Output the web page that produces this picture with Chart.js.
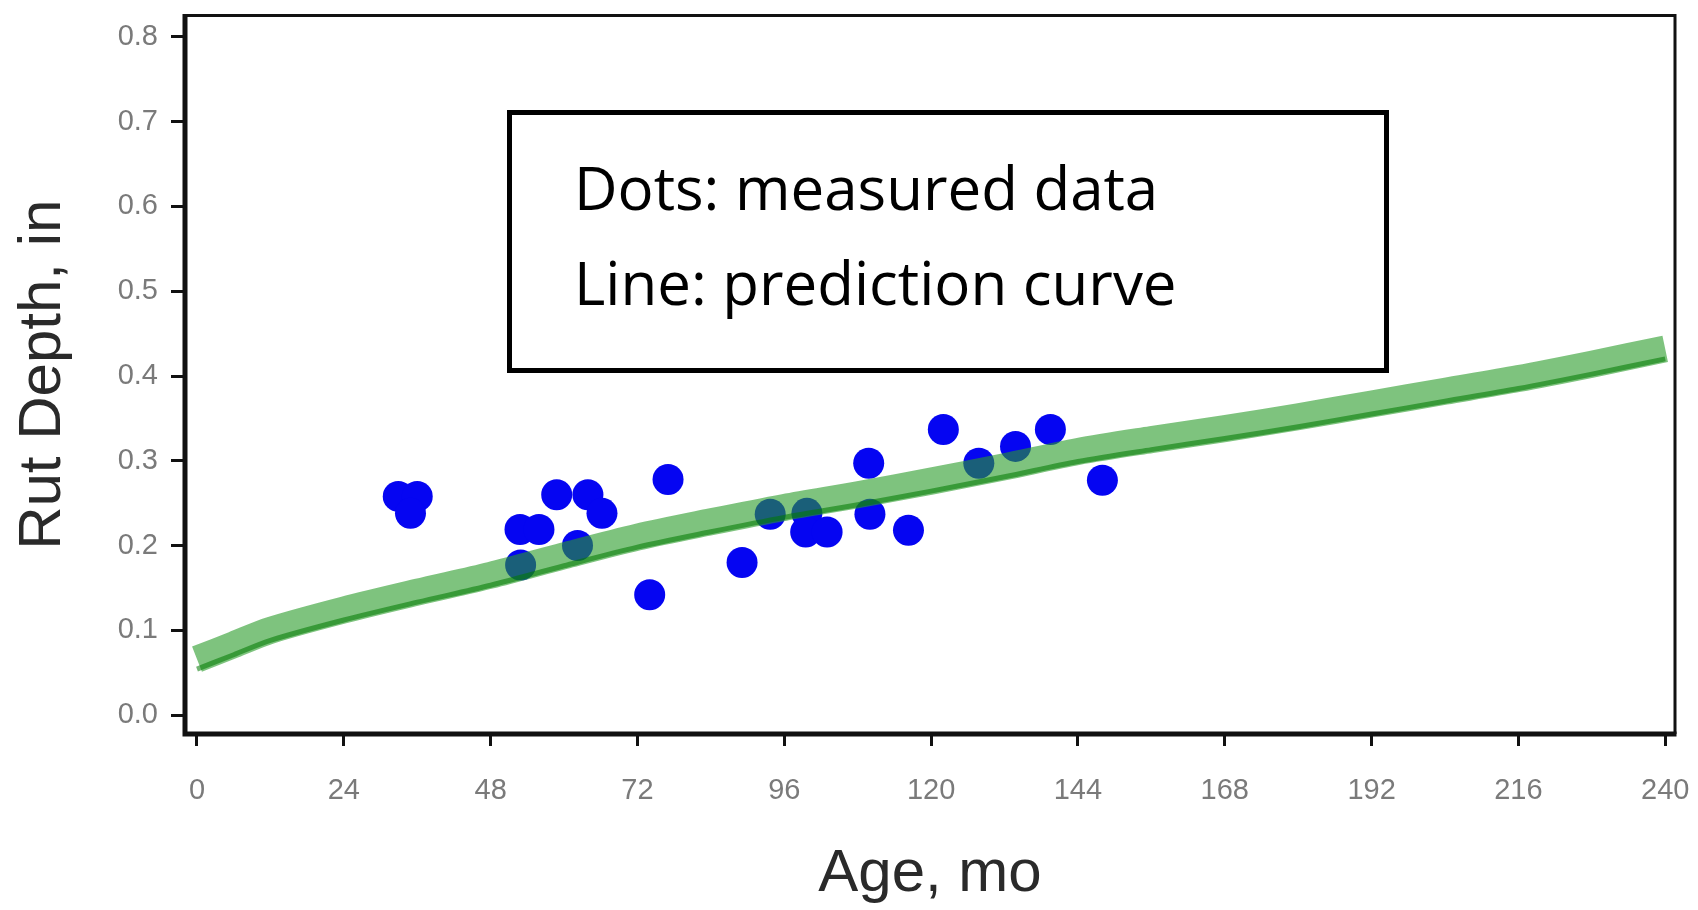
<!DOCTYPE html>
<html>
<head>
<meta charset="utf-8">
<title>Rut Depth vs Age</title>
<script src="https://cdn.jsdelivr.net/npm/chart.js@4.4.1/dist/chart.umd.min.js"></script>
<style>
  html, body { margin: 0; padding: 0; background: #fff; }
  canvas { display: block; }
</style>
</head>
<body>
<canvas id="rutChart" width="1698" height="910"></canvas>
<script>
// axis ticks
const ageTicks = [0, 24, 48, 72, 96, 120, 144, 168, 192, 216, 240];
const rutTicks = [0, 0.1, 0.2, 0.3, 0.4, 0.5, 0.6, 0.7, 0.8];

// measured data (dots)
const measuredAge = [32.9, 36.0, 34.9, 52.8, 55.9, 52.9, 58.8, 62.2, 63.9, 66.2, 74.0, 77.0, 89.1,
    93.7, 99.7, 99.5, 103.0, 109.8, 110.0, 116.3, 122.0, 127.8, 133.8, 139.5, 148.0];
const measuredRut = [0.258, 0.258, 0.238, 0.219, 0.219, 0.177, 0.260, 0.200, 0.260, 0.238, 0.142, 0.278, 0.180,
    0.237, 0.238, 0.216, 0.216, 0.297, 0.237, 0.218, 0.337, 0.297, 0.317, 0.337, 0.277];

// prediction curve (line)
const curveAge = [0, 6, 12, 24, 36, 48, 60, 72, 84, 96, 108, 120, 132, 144, 156, 168, 180, 192, 204, 216, 228, 240];
const curveRut = [0.066, 0.083, 0.100, 0.124, 0.145, 0.165, 0.188, 0.210, 0.228, 0.245, 0.260, 0.276,
    0.293, 0.311, 0.325, 0.338, 0.352, 0.367, 0.382, 0.397, 0.414, 0.432];

const noteLines = ['Dots: measured data', 'Line: prediction curve'];

const framePlugin = {
    id: 'frame',
    afterDatasetsDraw(chart) {
        const { ctx, chartArea: a } = chart;
        ctx.save();
        ctx.strokeStyle = '#111';
        ctx.lineWidth = 3;
        ctx.beginPath();
        ctx.moveTo(a.left, a.top);
        ctx.lineTo(a.right, a.top);
        ctx.lineTo(a.right, a.bottom);
        ctx.stroke();
        ctx.lineWidth = 5;
        ctx.beginPath();
        ctx.moveTo(a.left, a.top - 1.5);
        ctx.lineTo(a.left, a.bottom);
        ctx.lineTo(a.right + 1.5, a.bottom);
        ctx.stroke();
        ctx.restore();
    }
};

// darker lower rim of the green band: same curve, drawn shifted down a bit
const rimPlugin = {
    id: 'rim',
    beforeDatasetDraw(chart, args) {
        if (args.index === 1) {
            chart.ctx.save();
            chart.ctx.translate(0, 10);
        }
    },
    afterDatasetDraw(chart, args) {
        if (args.index === 1) chart.ctx.restore();
    }
};

// the text box in the upper middle of the plot
const notePlugin = {
    id: 'note',
    afterDraw(chart) {
        const ctx = chart.ctx;
        ctx.save();
        ctx.fillStyle = '#fff';
        ctx.fillRect(509, 112, 878, 259);
        ctx.strokeStyle = '#000';
        ctx.lineWidth = 5;
        ctx.strokeRect(509.5, 112.5, 877, 258);
        ctx.fillStyle = '#000';
        ctx.font = '60px "Open Sans"';
        ctx.textBaseline = 'alphabetic';
        ctx.fillText(noteLines[0], 574, 210);
        ctx.fillText(noteLines[1], 574, 305);
        ctx.restore();
    }
};

const ctx = document.getElementById('rutChart').getContext('2d');
new Chart(ctx, {
    type: 'scatter',
    data: {
        datasets: [{
            label: 'Prediction curve',
            data: curveAge.map((a, i) => ({ x: a, y: curveRut[i] })),
            showLine: true,
            borderColor: 'rgba(40, 155, 40, 0.6)',
            borderWidth: 27,
            borderCapStyle: 'butt',
            tension: 0.3,
            pointRadius: 0,
            clip: 0,
            order: 1
        }, {
            label: 'Prediction curve rim',
            data: curveAge.map((a, i) => ({ x: a, y: curveRut[i] })),
            showLine: true,
            borderColor: 'rgba(0, 120, 0, 0.55)',
            borderWidth: 5,
            borderCapStyle: 'butt',
            tension: 0.3,
            pointRadius: 0,
            clip: 0,
            order: 0
        }, {
            label: 'Measured data',
            data: measuredAge.map((a, i) => ({ x: a, y: measuredRut[i] })),
            backgroundColor: '#0505f2',
            borderWidth: 0,
            pointRadius: 15.5,
            order: 2
        }]
    },
    options: {
        responsive: false,
        animation: false,
        layout: { padding: { top: 13, right: 23, left: 0, bottom: 0 } },
        plugins: {
            legend: { display: false },
            tooltip: { enabled: false }
        },
        scales: {
            x: {
                type: 'linear',
                min: -1.96,
                max: 241.6,
                afterFit: s => { s.height = 176; s.paddingLeft = 0; s.paddingRight = 0; },
                afterBuildTicks: s => { s.ticks = ageTicks.map(v => ({ value: v })); },
                border: { display: false },
                grid: {
                    drawOnChartArea: false,
                    drawTicks: true,
                    tickLength: 12,
                    tickColor: '#111',
                    tickWidth: 3
                },
                ticks: {
                    color: '#7a7a7a',
                    padding: 28,
                    maxRotation: 0,
                    font: { family: '"Liberation Sans", Arial, sans-serif', size: 29 },
                    callback: v => String(v)
                },
                title: {
                    display: true,
                    text: 'Age, mo',
                    color: '#2a2a2a',
                    padding: 0,
                    font: { family: '"Liberation Sans", Arial, sans-serif', size: 60 }
                }
            },
            y: {
                type: 'linear',
                min: -0.0223,
                max: 0.8253,
                afterFit: s => { s.width = 185; s.paddingTop = 0; s.paddingBottom = 0; },
                afterBuildTicks: s => { s.ticks = rutTicks.map(v => ({ value: v })); },
                border: { display: false },
                grid: {
                    drawOnChartArea: false,
                    drawTicks: true,
                    tickLength: 14,
                    tickColor: '#111',
                    tickWidth: 3
                },
                ticks: {
                    color: '#7a7a7a',
                    padding: 13,
                    font: { family: '"Liberation Sans", Arial, sans-serif', size: 29 },
                    callback: v => v.toFixed(1)
                },
                title: {
                    display: true,
                    text: 'Rut Depth, in',
                    color: '#2a2a2a',
                    padding: { top: 7, bottom: 0 },
                    font: { family: '"Liberation Sans", Arial, sans-serif', size: 60 }
                }
            }
        }
    },
    plugins: [framePlugin, rimPlugin, notePlugin]
});
</script>
</body>
</html>
